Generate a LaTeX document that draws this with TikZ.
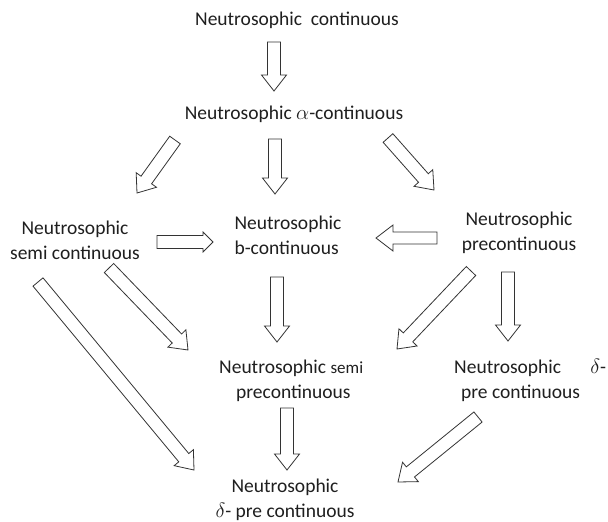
\documentclass[tikz,border=0pt]{standalone}
\usepackage{fontspec}
\setmainfont{Carlito}
\usetikzlibrary{calc}
\tikzset{
  lbl/.style={font=\fontsize{19.5}{25}\selectfont, inner sep=0pt, text=black!88},
  barrow/.style={draw=black!80, line width=0.8pt, fill=white, line join=miter},
}
% #1 start, #2 tip, #3 shaft half width, #4 head half width, #5 head length
\newcommand{\blockarrx}[5]{%
  \coordinate (hb) at ($(#2)!#5!(#1)$);
  \draw[barrow] ($(#1)!#3!90:(#2)$) -- ($(hb)!#3!-90:(#1)$) -- ($(hb)!#4!-90:(#1)$) -- (#2)
     -- ($(hb)!#4!90:(#1)$) -- ($(hb)!#3!90:(#1)$) -- ($(#1)!#3!-90:(#2)$) -- cycle;
}
\newcommand{\blockarr}[2]{\blockarrx{#1}{#2}{6.5pt}{12.5pt}{16pt}}
\begin{document}
\begin{tikzpicture}[x=1pt,y=-1pt]
\useasboundingbox (0,0) rectangle (608,522);
\fill[white] (0,0) rectangle (608,522);
% text nodes
\node[lbl] (cont) at (297,20) {Neutrosophic\hspace{0.45em}continuous};
\node[lbl] (alpha) at (294,114) {Neutrosophic $\alpha$-continuous};
\node[lbl, align=center] (semi) at (75,240) {Neutrosophic\\semi continuous};
\node[lbl, align=left] (bcont) at (288,235) {Neutrosophic\\b-continuous};
\node[lbl, align=center] (pre) at (519,233) {Neutrosophic\\precontinuous};
\node[lbl, align=left, anchor=west] (semipre) at (219,381) {Neutrosophic {\fontsize{17}{25}\selectfont semi}\\\hspace*{17pt}precontinuous};
\node[lbl, align=left, anchor=west] (dpre) at (454,380) {Neutrosophic\hspace{1.5em}$\delta$-\\\hspace*{7pt}pre continuous};
\node[lbl, align=center] (dbot) at (285,500) {Neutrosophic\\$\delta$- pre continuous};
% arrow end points
\coordinate (a1s) at (274,42);  \coordinate (a1e) at (274,91);
\coordinate (a2s) at (175,140); \coordinate (a2e) at (137,193);
\coordinate (a3s) at (275,139); \coordinate (a3e) at (275,194);
\coordinate (a4s) at (388,138); \coordinate (a4e) at (434,190);
\coordinate (a5s) at (157,242); \coordinate (a5e) at (213,242);
\coordinate (a6s) at (437,238); \coordinate (a6e) at (376,238);
\coordinate (a7s) at (109,268); \coordinate (a7e) at (188,350);
\coordinate (a8s) at (38,282);  \coordinate (a8e) at (194,470);
\coordinate (a9s) at (277,277); \coordinate (a9e) at (277,342);
\coordinate (a10s) at (471,271); \coordinate (a10e) at (397,349);
\coordinate (a11s) at (508,272); \coordinate (a11e) at (508,341);
\coordinate (a12s) at (287,408); \coordinate (a12e) at (287,470);
\coordinate (a13s) at (478,417); \coordinate (a13e) at (398,482);
\blockarr{a1s}{a1e}
\blockarr{a2s}{a2e}
\blockarr{a3s}{a3e}
\blockarr{a4s}{a4e}
\blockarrx{a5s}{a5e}{6.5pt}{10pt}{10pt}
\blockarrx{a6s}{a6e}{6pt}{13pt}{17pt}
\blockarr{a7s}{a7e}
\blockarr{a8s}{a8e}
\blockarr{a9s}{a9e}
\blockarr{a10s}{a10e}
\blockarr{a11s}{a11e}
\blockarr{a12s}{a12e}
\blockarr{a13s}{a13e}
\end{tikzpicture}
\end{document}
